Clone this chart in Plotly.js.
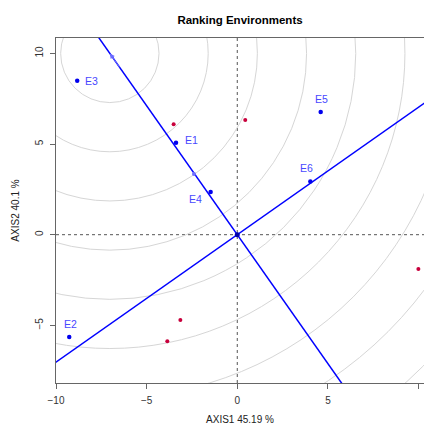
<!DOCTYPE html>
<html>
<head>
<meta charset="utf-8">
<script src="https://cdn.plot.ly/plotly-3.0.1.min.js"></script>
<style>html,body{margin:0;padding:0;background:#fff;}#chart{width:424px;height:428px;}</style>
</head>
<body>
<div id="chart"></div>
<script>
// Environments (blue)
const envNames = ['E1', 'E2', 'E3', 'E4', 'E5', 'E6'];
const envX = [-3.38, -9.27, -8.83, -1.47, 4.60, 4.03];
const envY = [5.07, -5.64, 8.49, 2.36, 6.77, 2.94];
// label offsets in pixels (style)
const envLabelDX = [15, 1, 14, -15, 1, -4];
const envLabelDY = [3, 13, 0, -7, 13, 13];
// Genotypes (red)
const genX = [-3.51, 0.44, -3.14, -3.86, 9.99];
const genY = [6.09, 6.33, -4.70, -5.88, -1.89];
// Ideal environment (centre of concentric circles) and circle spacing
const idealX = -7.03, idealY = 10.0;
const circleStep = 2.713;
const circleCount = 10;
// Mean-environment marker on the AEA
const meanX = -2.39, meanY = 3.35;

const traces = [];
traces.push({x: [-3 * idealX, 3 * idealX], y: [-3 * idealY, 3 * idealY], mode: 'lines',
  line: {color: '#0000ff', width: 1.5}, hoverinfo: 'skip', showlegend: false});
traces.push({x: [-3 * idealY, 3 * idealY], y: [3 * idealX, -3 * idealX], mode: 'lines',
  line: {color: '#0000ff', width: 1.5}, hoverinfo: 'skip', showlegend: false});
traces.push({x: genX, y: genY, mode: 'markers', marker: {color: '#c8003c', size: 4}, showlegend: false});
traces.push({x: envX, y: envY, mode: 'markers', marker: {color: '#0000ee', size: 4.5}, showlegend: false});
traces.push({x: [0], y: [0], mode: 'markers', marker: {color: '#0000aa', size: 5}, showlegend: false});
traces.push({x: [meanX], y: [meanY], mode: 'markers', marker: {color: '#7070ff', size: 4}, showlegend: false});

const shapes = [];
for (let k = 1; k <= circleCount; k++) {
  const r = k * circleStep;
  shapes.push({type: 'circle', xref: 'x', yref: 'y', x0: idealX - r, x1: idealX + r,
    y0: idealY - r, y1: idealY + r, line: {color: '#d6d6d6', width: 1}, layer: 'below'});
}
shapes.push({type: 'line', xref: 'x', yref: 'paper', x0: 0, x1: 0, y0: 0, y1: 1,
  line: {color: '#555', width: 1, dash: 'dot'}, layer: 'below'});
shapes.push({type: 'line', xref: 'paper', yref: 'y', x0: 0, x1: 1, y0: 0, y1: 0,
  line: {color: '#555', width: 1, dash: 'dot'}, layer: 'below'});

const annotations = envNames.map((name, i) => ({
  x: envX[i], y: envY[i], xref: 'x', yref: 'y', text: name, showarrow: false,
  xshift: envLabelDX[i], yshift: envLabelDY[i], xanchor: 'center', yanchor: 'middle',
  font: {family: 'Liberation Sans, Arial, sans-serif', size: 10.5, color: '#4848ff'}
}));
annotations.push({x: idealX, y: idealY, ax: idealX + 0.6, ay: idealY - 0.85, xref: 'x', yref: 'y',
  axref: 'x', ayref: 'y', showarrow: true, arrowhead: 2, arrowsize: 1, arrowwidth: 1,
  arrowcolor: '#6a6aff', text: ''});

const tickFont = {family: 'Liberation Sans, Arial, sans-serif', size: 10, color: '#333'};
const layout = {
  width: 424, height: 428,
  margin: {l: 56, r: 0, t: 38, b: 45},
  paper_bgcolor: '#fff', plot_bgcolor: '#fff',
  font: {family: 'Liberation Sans, Arial, sans-serif'},
  title: {text: '<b>Ranking Environments</b>', xref: 'paper', x: 0.5, xanchor: 'center',
    y: 0.962, yref: 'container', font: {size: 11.5, color: '#000'}},
  xaxis: {range: [-10, 10.30], tickvals: [-10, -5, 0, 5, 10], ticks: 'outside', ticklen: 5,
    tickcolor: '#666', showgrid: false, zeroline: false, showline: true, linecolor: '#666',
    linewidth: 1, mirror: true, tickfont: tickFont, ticklabelstandoff: 3,
    title: {text: 'AXIS1 45.19 %', font: {size: 10, color: '#222'}, standoff: 10}},
  yaxis: {range: [-8.18, 10.85], tickvals: [-5, 0, 5, 10], ticks: 'outside', ticklen: 5,
    tickcolor: '#666', showgrid: false, zeroline: false, showline: true, linecolor: '#666',
    linewidth: 1, mirror: true, tickfont: tickFont, tickangle: -90, ticklabelstandoff: 3,
    title: {text: 'AXIS2 40.1 %', font: {size: 10, color: '#222'}, standoff: 12}},
  shapes: shapes,
  annotations: annotations
};
Plotly.newPlot('chart', traces, layout, {displayModeBar: false, staticPlot: true});
</script>
</body>
</html>
